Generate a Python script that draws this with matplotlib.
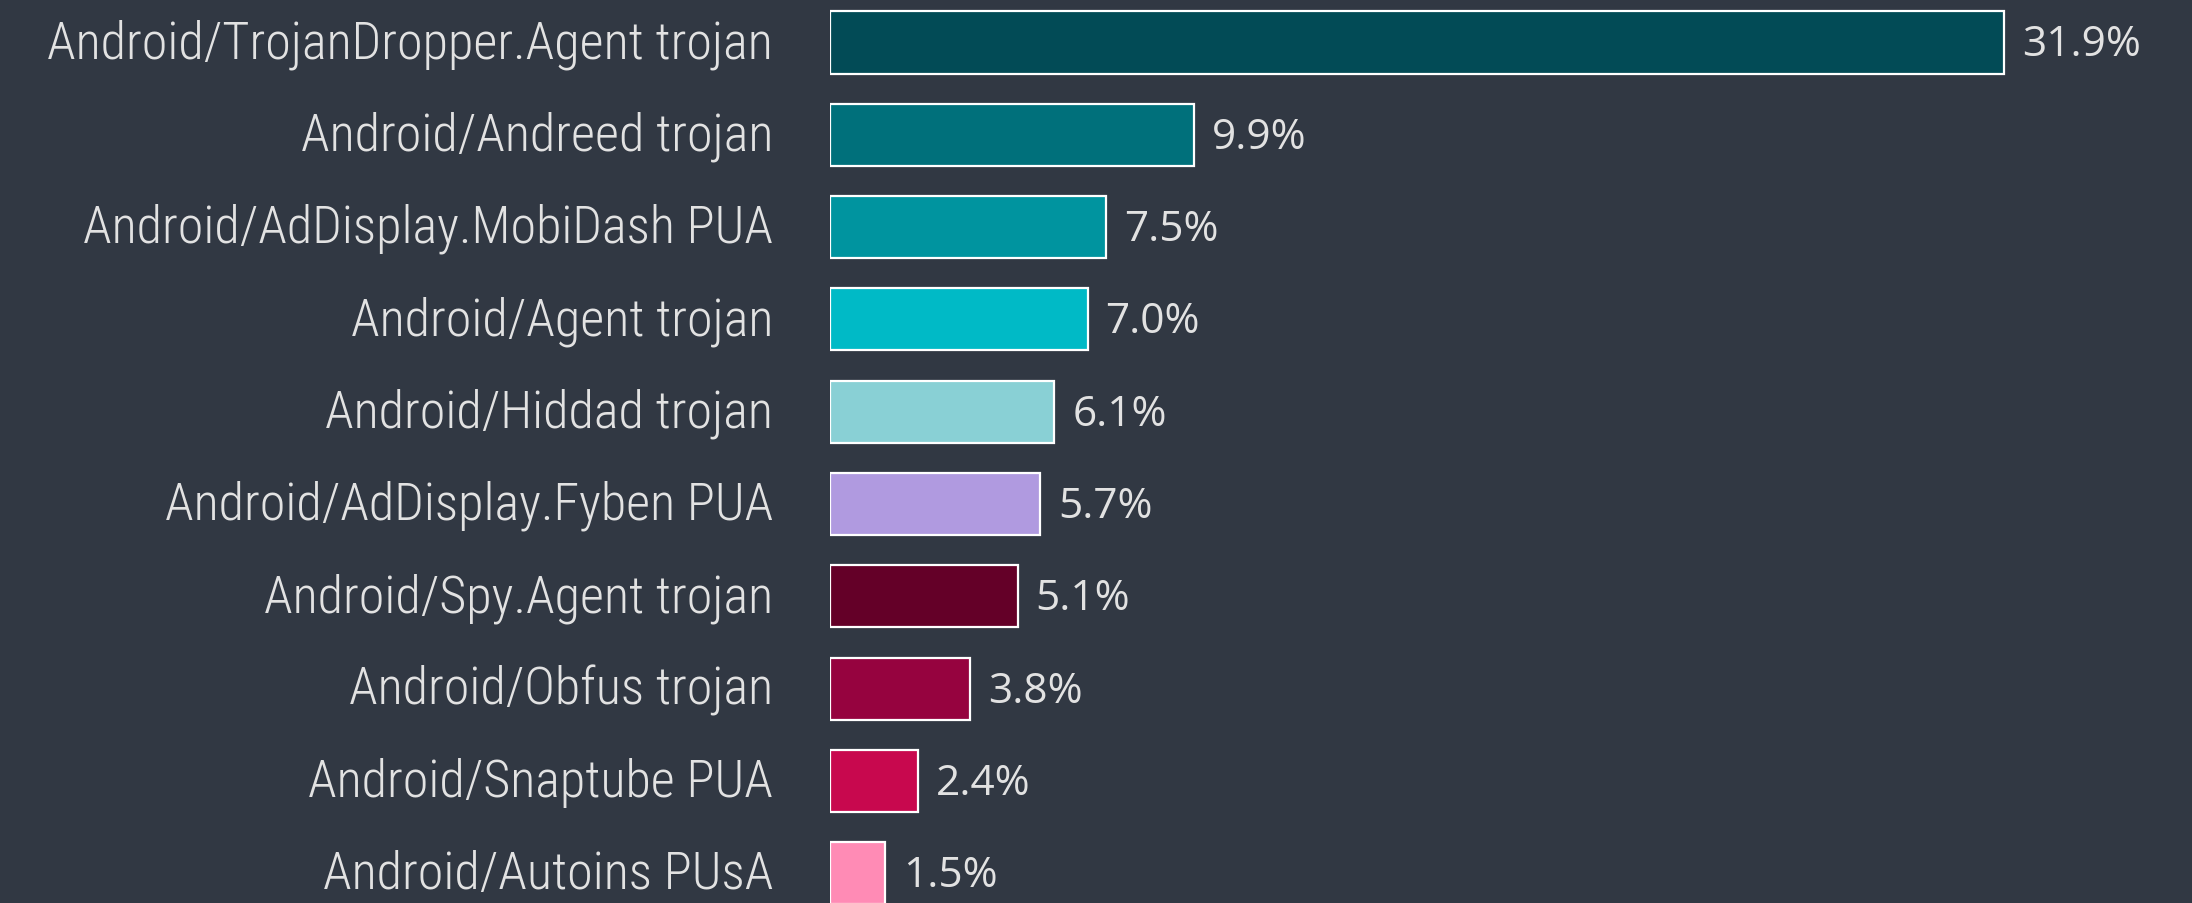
import matplotlib.pyplot as plt
from matplotlib import font_manager

categories = [
    "Android/TrojanDropper.Agent trojan",
    "Android/Andreed trojan",
    "Android/AdDisplay.MobiDash PUA",
    "Android/Agent trojan",
    "Android/Hiddad trojan",
    "Android/AdDisplay.Fyben PUA",
    "Android/Spy.Agent trojan",
    "Android/Obfus trojan",
    "Android/Snaptube PUA",
    "Android/Autoins PUsA",
]
shares = [31.9, 9.9, 7.5, 7.0, 6.1, 5.7, 5.1, 3.8, 2.4, 1.5]
colors = ["#024b56", "#00707b", "#00949f", "#00bac6", "#89d0d5",
          "#b09ae0", "#640028", "#96033f", "#c8084e", "#ff8bb5"]

bg = "#313843"
txt = "#e2e2e2"

# narrowest installed family for the category names
names = {f.name for f in font_manager.fontManager.ttflist}
label_font = next((n for n in ["Roboto Condensed", "Open Sans Condensed",
                               "Noto Sans Condensed", "Roboto"] if n in names),
                  "DejaVu Sans")
label_size = 37.5 if "Condensed" in label_font else 31

fig = plt.figure(figsize=(21.92, 9.04), dpi=100, facecolor=bg)
ax = fig.add_axes([830 / 2192, 0, 1 - 830 / 2192, 1])
ax.set_facecolor(bg)

ypos = list(range(len(categories)))
ax.barh(ypos, shares, height=0.672, color=colors,
        edgecolor="white", linewidth=1.6)

ax.set_xlim(0, 1362 / 36.8)
ax.set_ylim((904 - 43.5) / 92.3, -43.5 / 92.3)
ax.axis("off")

for y, name, v in zip(ypos, categories, shares):
    ax.annotate(name, (0, y), xytext=(-57, -1), textcoords="offset pixels",
                ha="right", va="center", color=txt, fontsize=label_size,
                fontweight="light", family=[label_font, "DejaVu Sans"])
    ax.annotate(f"{v:.1f}%", (v, y), xytext=(18, -2), textcoords="offset pixels",
                ha="left", va="center", color=txt, fontsize=30.5,
                family=["Open Sans", "DejaVu Sans"])

fig.savefig("out.png", dpi=100, facecolor=bg)
